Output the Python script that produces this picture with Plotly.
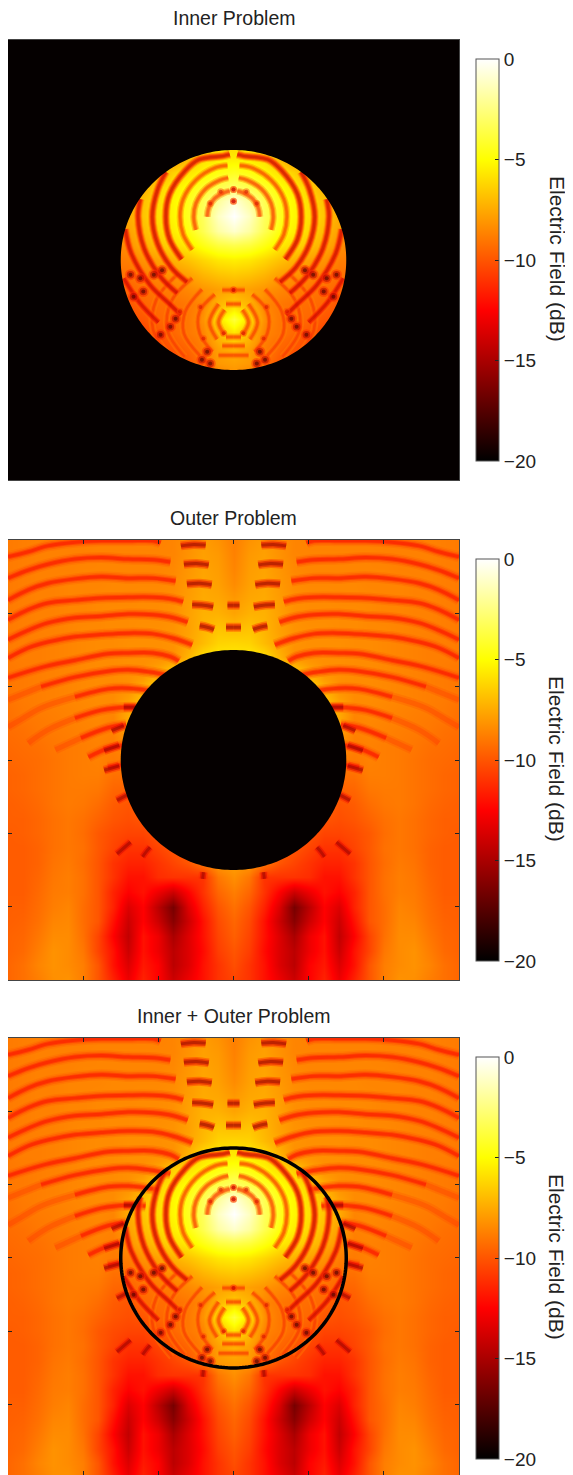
import numpy as np
import plotly.graph_objects as go

titles = ["Inner Problem", "Outer Problem", "Inner + Outer Problem"]
colorbar_title = "Electric Field (dB)"
cbar_ticks = [0, -5, -10, -15, -20]
hot_scale = [[0, "#000000"], [0.375, "#ff0000"], [0.75, "#ffff00"], [1, "#ffffff"]]
disk_radius = 1.5

# half of the symmetric field (dB), x = 0 .. 3
x_half = [0, .2, .4, .6, .8, 1, 1.2, 1.4, 1.6, 1.8, 2, 2.2, 2.4, 2.6, 2.8, 3]
y_rows = [3, 2.8, 2.6, 2.4, 2.2, 2, 1.8, 1.6, 1.4, 1.2, 1, .8, .6, .4, .2, 0,
          -.2, -.4, -.6, -.8, -1, -1.2, -1.4, -1.6, -1.8, -2, -2.2, -2.4, -2.6, -2.8, -3]
field_upper = [
    [-8.8, -8.2, -7.9, -8.3, -8.6, -8.7, -8.7, -8.7, -8.7, -8.7, -8.7, -8.7, -8.7, -8.7, -8.8, -8.9],
    [-8.7, -8.0, -7.8, -8.2, -8.6, -8.6, -8.6, -8.6, -8.6, -8.6, -8.7, -8.7, -8.7, -8.7, -8.8, -8.9],
    [-8.6, -7.9, -7.7, -8.1, -8.5, -8.6, -8.6, -8.6, -8.6, -8.6, -8.6, -8.7, -8.7, -8.7, -8.8, -8.9],
    [-8.4, -7.8, -7.6, -8.0, -8.4, -8.5, -8.5, -8.5, -8.5, -8.6, -8.6, -8.6, -8.7, -8.7, -8.8, -8.9],
    [-8.0, -7.6, -7.5, -7.9, -8.3, -8.4, -8.4, -8.5, -8.5, -8.5, -8.6, -8.6, -8.7, -8.7, -8.8, -8.9],
    [-7.7, -7.3, -7.3, -7.8, -8.3, -8.4, -8.4, -8.4, -8.4, -8.5, -8.6, -8.6, -8.7, -8.7, -8.8, -8.9],
    [-7.0, -6.8, -7.2, -7.8, -8.2, -8.3, -8.3, -8.4, -8.4, -8.5, -8.5, -8.6, -8.7, -8.7, -8.8, -8.9],
    [-6.2, -6.3, -7.0, -7.7, -8.2, -8.3, -8.3, -8.3, -8.4, -8.4, -8.5, -8.6, -8.7, -8.8, -8.8, -8.9],
    [-5.6, -5.6, -6.0, -7.2, -8.3, -8.3, -8.3, -8.3, -8.4, -8.4, -8.5, -8.6, -8.7, -8.8, -8.8, -8.9],
    [-4.4, -4.7, -5.2, -5.8, -6.4, -7.6, -8.3, -8.3, -8.4, -8.4, -8.5, -8.6, -8.7, -8.8, -8.9, -9.0],
    [-3.0, -3.5, -4.2, -4.9, -5.6, -6.3, -7.4, -8.3, -8.4, -8.4, -8.5, -8.6, -8.7, -8.8, -8.9, -9.0],
    [-0.8, -2.0, -3.4, -4.5, -5.2, -6.0, -6.8, -7.8, -8.4, -8.4, -8.5, -8.6, -8.7, -8.8, -8.9, -9.1],
    [0.0, -1.2, -3.2, -4.4, -5.2, -5.9, -6.7, -7.5, -8.6, -8.5, -8.6, -8.7, -8.8, -8.9, -9.0, -9.2],
]
field_middle = [
    [-1.0, -1.8, -3.4, -4.7, -5.5, -6.2, -7.0, -7.8, -8.7, -8.6, -8.7, -8.8, -8.9, -9.0, -9.2, -9.3],
    [-3.5, -3.8, -4.6, -5.5, -6.1, -6.8, -7.4, -8.2, -8.8, -8.7, -8.8, -8.9, -9.0, -9.2, -9.3, -9.4],
    [-5.5, -5.7, -6.2, -6.8, -7.3, -7.8, -8.2, -8.8, -8.9, -8.7, -8.8, -8.9, -9.1, -9.3, -9.4, -9.5],
    [-6.6, -6.8, -7.2, -7.8, -8.2, -8.5, -8.8, -9.2, -9.2, -8.8, -8.8, -8.9, -9.1, -9.3, -9.5, -9.6],
    [-7.6, -7.8, -8.1, -8.5, -8.8, -9.0, -9.2, -9.6, -9.5, -9.0, -8.9, -8.9, -9.1, -9.3, -9.5, -9.6],
    [-6.5, -7.2, -8.5, -9.0, -9.2, -9.3, -9.5, -10.0, -9.8, -9.3, -9.0, -8.9, -9.1, -9.4, -9.6, -9.7],
    [-3.8, -6.0, -8.2, -9.0, -9.3, -9.5, -10.0, -10.2, -10.0, -9.6, -9.2, -9.0, -9.2, -9.5, -9.7, -9.7],
    [-5.8, -7.0, -8.6, -9.0, -9.5, -10.0, -10.5, -10.5, -10.3, -9.9, -9.3, -9.0, -9.2, -9.5, -9.7, -9.8],
    [-7.2, -7.8, -8.8, -9.5, -10.0, -10.5, -11.0, -11.0, -10.5, -9.9, -9.2, -9.0, -9.2, -9.6, -9.8, -9.8],
]
field_lower = [
    [-7.8, -8.0, -9.0, -10.0, -10.5, -11.0, -11.5, -11.5, -11.0, -10.0, -9.3, -8.9, -9.1, -9.6, -9.8, -9.8],
    [-8.3, -9.0, -11.0, -11.0, -11.0, -11.2, -12.0, -12.0, -11.0, -10.0, -9.2, -8.8, -9.0, -9.5, -9.8, -9.8],
    [-8.8, -9.5, -11.0, -12.5, -14.0, -13.0, -12.0, -12.5, -11.5, -10.0, -9.2, -8.8, -8.9, -9.4, -9.8, -9.8],
    [-9.2, -10.0, -11.5, -13.5, -16.5, -14.5, -12.5, -13.5, -11.5, -10.0, -9.3, -8.6, -8.8, -9.3, -9.7, -9.7],
    [-9.5, -10.3, -12.0, -14.0, -16.0, -14.0, -12.5, -14.0, -12.0, -10.0, -9.3, -8.5, -8.6, -9.2, -9.6, -9.7],
    [-9.7, -10.5, -12.0, -13.5, -15.0, -13.0, -12.0, -14.3, -12.5, -10.5, -9.2, -8.4, -8.4, -9.0, -9.5, -9.6],
    [-10.0, -10.7, -12.2, -13.5, -14.5, -13.0, -12.0, -14.0, -12.0, -10.5, -9.0, -8.4, -8.2, -8.8, -9.4, -9.6],
    [-10.2, -11.0, -12.0, -13.5, -14.5, -12.5, -11.8, -13.5, -12.0, -10.0, -8.8, -8.4, -8.2, -8.6, -9.2, -9.5],
    [-10.5, -11.0, -12.0, -13.0, -14.0, -12.5, -11.5, -13.0, -11.5, -10.0, -8.8, -8.2, -8.3, -8.8, -9.2, -9.5],
]

# traced interference minima, as (x, y) points
outer_arcs = [
    [(3, 2.77), (2.73, 2.84), (2.47, 2.92), (2.11, 2.97), (1.76, 2.99), (1.4, 2.99), (1.07, 2.99), (.97, 2.96)],
    [(3, 2.48), (2.73, 2.59), (2.47, 2.67), (2.11, 2.74), (1.76, 2.76), (1.4, 2.74), (1.07, 2.73), (.84, 2.7)],
    [(3, 2.18), (2.73, 2.32), (2.47, 2.41), (2.11, 2.47), (1.76, 2.5), (1.4, 2.48), (1.07, 2.48), (.77, 2.44)],
    [(3, 1.91), (2.73, 2.05), (2.47, 2.14), (2.11, 2.18), (1.76, 2.21), (1.4, 2.22), (1.07, 2.22), (.84, 2.2), (.67, 2.16)],
    [(3, 1.64), (2.73, 1.77), (2.47, 1.87), (2.11, 1.94), (1.76, 1.96), (1.4, 1.99), (1.07, 1.98), (.8, 1.94), (.61, 1.88)],
    [(3, 1.39), (2.73, 1.53), (2.47, 1.61), (2.11, 1.68), (1.76, 1.71), (1.4, 1.73), (1.07, 1.72), (.8, 1.66), (.55, 1.57)],
    [(3, 1.12), (2.56, 1.26), (2.11, 1.36), (1.67, 1.45), (1.4, 1.46), (1.07, 1.46), (.84, 1.41), (.73, 1.35)],
    [(2.56, 1.0), (2.11, 1.13), (1.67, 1.21), (1.4, 1.23), (1.11, 1.2), (.84, 1.15)],
    [(2.11, .86), (1.67, .97), (1.4, .98), (1.0, .93)],
    [(2.11, .57), (1.76, .68), (1.4, .72), (1.17, .71)],
    [(2.03, .3), (1.67, .44), (1.43, .48)],
    [(1.93, .04), (1.67, .16), (1.47, .2)],
    [(1.67, -.1), (1.49, -.07)],
]
outer_tails = [
    [(3, .82), (2.56, 1.0)],
    [(3, .45), (2.83, .55), (2.56, .71), (2.11, .86)],
    [(2.73, .23), (2.47, .41), (2.11, .57)],
    [(2.37, .14), (2.03, .3)],
]
outer_deep = [
    [(.7, 2.92), (.53, 2.94), (.37, 2.93)],
    [(.66, 2.67), (.49, 2.68), (.33, 2.66)],
    [(.62, 2.4), (.45, 2.41), (.29, 2.39)],
    [(.55, 2.12), (.4, 2.11), (.27, 2.09)],
    [(.45, 1.83), (.35, 1.81), (.26, 1.78)],
    [(0, 2.11), (.08, 2.11)],
    [(0, 1.81), (.1, 1.81)],
    [(1.3, .72), (1.46, .72)],
    [(1.62, .4), (1.46, .47)],
    [(1.72, .13), (1.52, .2)],
    [(1.72, -.14), (1.52, -.08)],
    [(1.55, -.55), (1.42, -.48)],
    [(1.55, -1.28), (1.46, -1.2), (1.37, -1.12)],
    [(1.21, -1.32), (1.16, -1.25), (1.11, -1.19)],
    [(.41, -1.62), (.4, -1.53)],
]
inner_faint = [
    [(.05, .94), (.12, .92), (.25, .84), (.33, .71), (.35, .59)],
    [(.07, 1.12), (.18, 1.09), (.37, .97), (.5, .77), (.53, .59), (.5, .41)],
    [(.08, 1.29), (.24, 1.26), (.5, 1.09), (.67, .83), (.71, .59), (.67, .35), (.55, .14)],
    [(.12, -.68), (.2, -.85), (.12, -1.02)],
    [(.2, -.6), (.32, -.85), (.22, -1.08)],
    [(.25, -.47), (.45, -.7), (.45, -1), (.28, -1.25)],
    [(.42, -.4), (.64, -.7), (.66, -1), (.45, -1.3)],
    [(.55, -.25), (.82, -.55), (.88, -.95), (.65, -1.32)],
    [(.75, -.2), (1.03, -.55), (1.07, -.95), (.82, -1.35)],
    [(0, -.6), (.1, -.6)],
    [(0, -.41), (.15, -.41)],
    [(0, -1.05), (.1, -1.05)],
    [(0, -1.17), (.15, -1.17)],
    [(0, -1.3), (.2, -1.3)],
]
inner_dark = [
    [(.05, 1.44), (.13, 1.42), (.46, 1.37), (.64, 1.22), (.85, .9), (.9, .59), (.85, .28), (.69, .01)],
    [(.9, 1.2), (1.01, .96), (1.08, .59), (1.01, .22), (.83, -.1), (.62, -.3)],
    [(1.24, .83), (1.27, .59), (1.19, .16), (.97, -.23), (.75, -.45)],
    [(1.44, .42), (1.36, .09), (1.11, -.34), (.85, -.6), (.7, -.75)],
    [(1.46, -.25), (1.25, -.58), (1.0, -.85)],
]
small_spots_x = [0, 0, .17, .31, .13, .44, .71, .4, 0]
small_spots_y = [.8, .96, .93, .77, -1.0, -.64, -.7, -1.07, -.41]
dark_spots_x = [1.33, 1.2, .77, .84, .97, .35, .42, .31, .95, 1.06, 1.24, 1.37]
dark_spots_y = [-.5, -.43, -.8, -.91, -1.02, -1.25, -1.36, -1.41, -.14, -.2, -.25, -.2]

FONT = "Liberation Sans, Arial, sans-serif"
W, H = 565, 1467
X0, X1 = 0, 451
# panel top, bottom, colorbar top (in figure pixels), lower y limit
PANELS = [(32, 472, 51, -3.0), (532, 972, 551, -3.0), (1030, 1467, 1049, -2.96)]

z_half = field_upper + field_middle + field_lower
z_full = [list(reversed(r[1:])) + r for r in z_half][::-1]
x_full = [-v for v in reversed(x_half[1:])] + x_half
y_full = y_rows[::-1]


def mirrored(arcs):
    xs, ys = [], []
    for arc in arcs:
        for sign in (1, -1):
            xs += [sign * p[0] for p in arc] + [None]
            ys += [p[1] for p in arc] + [None]
    return xs, ys


fig = go.Figure()


def add_lines(arcs, layers, n):
    xs, ys = mirrored(arcs)
    for color, width in layers:
        fig.add_trace(go.Scatter(x=xs, y=ys, mode="lines", xaxis=f"x{n}", yaxis=f"y{n}",
                                 line=dict(color=color, width=width, shape="spline", smoothing=1),
                                 hoverinfo="skip", showlegend=False))


def add_spots(xs, ys, layers, n):
    sx = xs + [-v for v in xs]
    sy = ys + ys
    for color, size in layers:
        fig.add_trace(go.Scatter(x=sx, y=sy, mode="markers", xaxis=f"x{n}", yaxis=f"y{n}",
                                 marker=dict(size=size, color=color, line=dict(width=0)),
                                 hoverinfo="skip", showlegend=False))


outer_layers = [("rgba(255,95,0,0.3)", 11), ("rgba(255,65,0,0.35)", 8), ("rgba(255,30,0,0.45)", 5), ("rgba(248,10,0,0.4)", 3)]
tail_layers = [("rgba(255,70,0,0.22)", 9), ("rgba(255,40,0,0.25)", 5)]
deep_layers = [("rgba(255,40,0,0.4)", 9), ("rgba(210,0,0,0.45)", 6), ("rgba(120,0,0,0.4)", 3)]
faint_layers = [("rgba(255,130,0,0.4)", 7), ("rgba(255,80,0,0.45)", 4.5), ("rgba(240,30,0,0.35)", 2.5)]
dark_layers = [("rgba(255,110,0,0.35)", 8.5), ("rgba(255,45,0,0.45)", 6.5), ("rgba(230,0,0,0.45)", 4.5), ("rgba(170,0,0,0.35)", 2.5)]
small_spot_layers = [("rgba(255,70,0,0.45)", 7), ("rgba(200,0,0,0.45)", 4)]
dark_spot_layers = [("rgba(255,40,0,0.45)", 11), ("rgba(170,0,0,0.5)", 7.5), ("rgba(50,0,0,0.5)", 4)]

for i, (top, bottom, cb_top, y_low) in enumerate(PANELS):
    n = i + 1
    fig.add_trace(go.Heatmap(
        x=x_full, y=y_full, z=z_full, zmin=-20, zmax=0, zsmooth="best",
        colorscale=hot_scale, xaxis=f"x{n}", yaxis=f"y{n}", hoverinfo="skip",
        colorbar=dict(
            x=468 / W, xanchor="left", xpad=0, y=1 - cb_top / H, yanchor="top", ypad=0,
            thickness=23, thicknessmode="pixels", len=402 / H, lenmode="fraction",
            outlinecolor="#555555", outlinewidth=1, tickprefix="\u2009",
            tickvals=cbar_ticks, ticks="inside", ticklen=4, tickcolor="#222222",
            tickfont=dict(family=FONT, size=19, color="#222222"),
        )))
    if i != 0:
        add_lines(outer_tails, tail_layers, n)
        add_lines(outer_arcs, outer_layers, n)
        add_lines(outer_deep, deep_layers, n)
    if i != 1:
        add_lines(inner_faint, faint_layers, n)
        add_lines(inner_dark, dark_layers, n)
        add_spots(small_spots_x, small_spots_y, small_spot_layers, n)
        add_spots(dark_spots_x, dark_spots_y, dark_spot_layers, n)
    suffix = "" if n == 1 else str(n)
    axis = dict(showgrid=False, zeroline=False, showticklabels=False, ticks="inside", ticklen=4,
                tickcolor="#222222", showline=True, mirror="ticks", linecolor="#444444", linewidth=1)
    fig.layout["xaxis" + suffix] = dict(axis, domain=[X0 / W, X1 / W], range=[-3, 3],
                                        tickvals=[-3, -2, -1, 0, 1, 2, 3], anchor="y" + suffix)
    fig.layout["yaxis" + suffix] = dict(axis, domain=[1 - bottom / H, 1 - top / H], range=[y_low, 3],
                                        tickvals=[-2, -1, 0, 1, 2], anchor="x" + suffix)
    fig.add_annotation(text=titles[i], xref="paper", yref="paper", x=(X0 + X1) / 2 / W, y=1 - (top - 9) / H,
                       yanchor="bottom", showarrow=False, font=dict(family=FONT, size=19.5, color="#222222"))
    fig.add_annotation(text=colorbar_title, xref="paper", yref="paper", x=549 / W, xanchor="center",
                       y=1 - (top + 220 - 1) / H, yanchor="middle", textangle=90, showarrow=False,
                       font=dict(family=FONT, size=21, color="#222222"))

theta = np.linspace(0, 2 * np.pi, 241)
ring = "M" + " L".join(f"{disk_radius * np.cos(t):.4f},{disk_radius * np.sin(t):.4f}" for t in theta) + " Z"
outside = "M-3,-3 L3,-3 L3,3 L-3,3 Z " + ring
shapes = [
    dict(type="path", xref="x", yref="y", path=outside, fillcolor="#050000", line=dict(width=0), layer="above"),
    dict(type="path", xref="x2", yref="y2", path=ring, fillcolor="#050000", line=dict(width=0), layer="above"),
    dict(type="path", xref="x3", yref="y3", path=ring, fillcolor="rgba(0,0,0,0)",
         line=dict(color="#000000", width=3.5), layer="above"),
]
fig.update_layout(width=W, height=H, margin=dict(l=0, r=0, t=0, b=0), autosize=False,
                  paper_bgcolor="white", plot_bgcolor="white", shapes=shapes, showlegend=False)
fig.write_html("out.html")
